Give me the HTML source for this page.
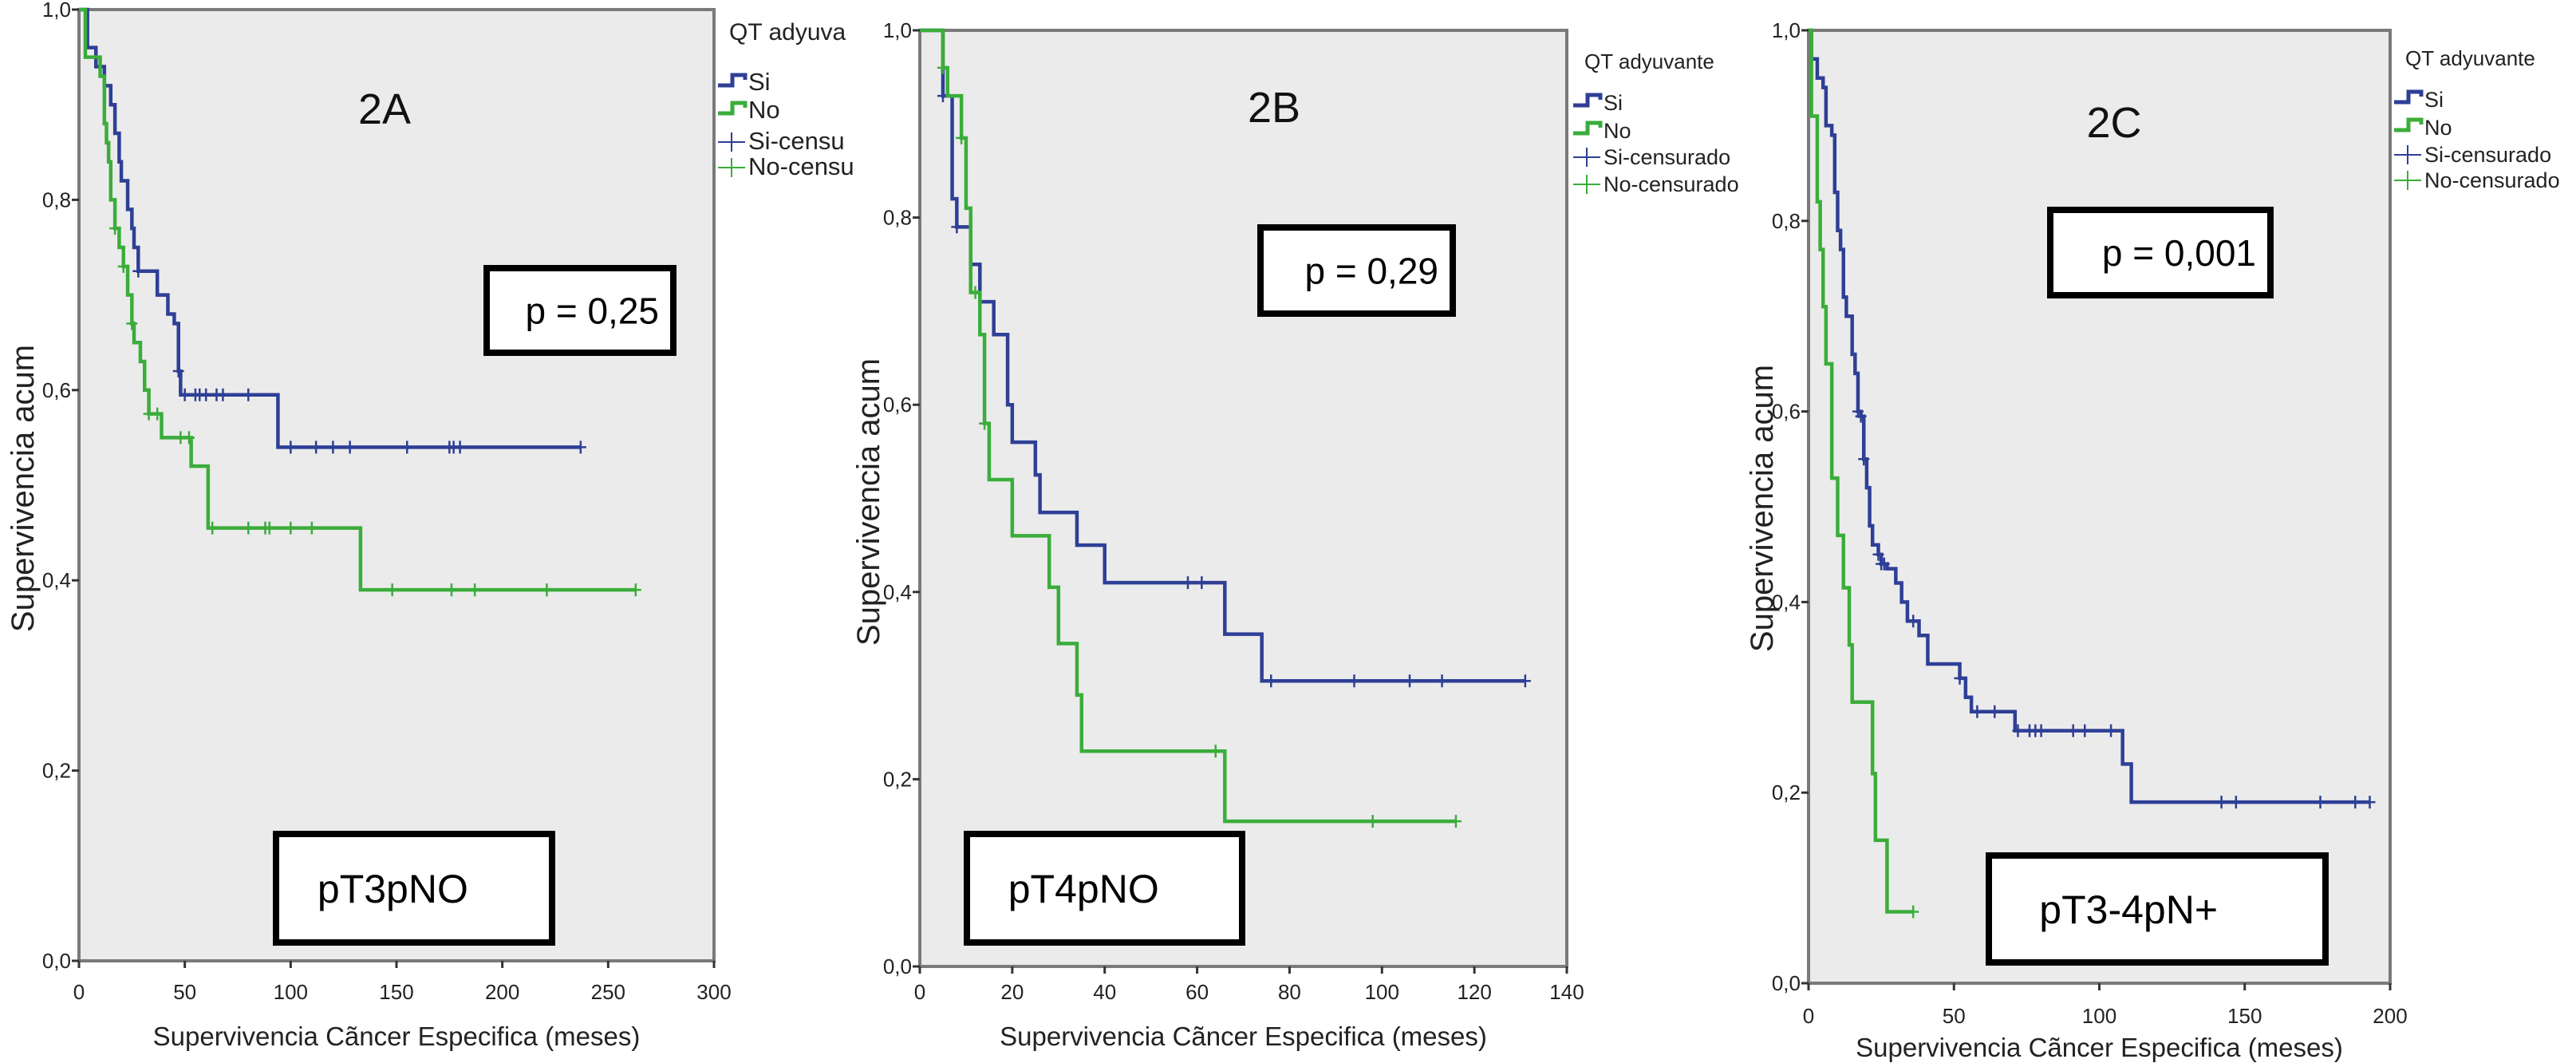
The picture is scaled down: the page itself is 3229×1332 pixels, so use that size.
<!DOCTYPE html>
<html><head><meta charset="utf-8">
<style>
html,body{margin:0;padding:0;background:#fff;}
svg{display:block;font-family:"Liberation Sans",Arial,sans-serif;}
</style></head>
<body>
<svg id="chart" width="3229" height="1332" viewBox="0 0 3229 1332" xmlns="http://www.w3.org/2000/svg"></svg>
<script>
// ---- Panel A data ----
const aXTicks = [0,50,100,150,200,250,300];
const aSiTimes = [4,8,12,15,17,19,20,23,25,26,28,37,42,45,47,48,94];
const aSiSurv  = [0.96,0.94,0.92,0.90,0.87,0.84,0.82,0.79,0.77,0.75,0.725,0.70,0.68,0.67,0.62,0.595,0.54];
const aSiEnd = 237;
const aSiCens = [28,47,50,55,57,60,65,68,80,100,112,120,128,155,175,177,180,237];
const aNoTimes = [3,10,12,13,14,15,17,19,21,23,25,26,29,31,33,39,53,61,133];
const aNoSurv  = [0.95,0.93,0.88,0.86,0.84,0.80,0.77,0.75,0.73,0.70,0.67,0.65,0.63,0.60,0.575,0.55,0.52,0.455,0.39];
const aNoEnd = 263;
const aNoCens = [17,21,25,33,37,48,52,63,80,88,90,100,110,148,176,187,221,263];
// ---- Panel B data ----
const bXTicks = [0,20,40,60,80,100,120,140];
const bSiTimes = [5,7,8,11,13,16,19,20,25,26,34,40,66,74];
const bSiSurv  = [0.93,0.82,0.79,0.75,0.71,0.675,0.60,0.56,0.525,0.485,0.45,0.41,0.355,0.305];
const bSiEnd = 131;
const bSiCens = [5,8,58,61,76,94,106,113,131];
const bNoTimes = [5,6,9,10,11,13,14,15,20,28,30,34,35,66];
const bNoSurv  = [0.96,0.93,0.885,0.81,0.72,0.675,0.58,0.52,0.46,0.405,0.345,0.29,0.23,0.155];
const bNoEnd = 116;
const bNoCens = [5,9,12,14,64,98,116];
// ---- Panel C data ----
const cXTicks = [0,50,100,150,200];
const cSiTimes = [1,3,5,6,8,9,10,11,12,13,15,16,17,18,19,20,21,22,24,25,27,30,32,34,38,41,52,54,56,71,108,111];
const cSiSurv  = [0.97,0.95,0.94,0.90,0.89,0.83,0.79,0.77,0.72,0.70,0.66,0.64,0.60,0.595,0.55,0.52,0.48,0.46,0.45,0.44,0.435,0.42,0.40,0.38,0.365,0.335,0.32,0.30,0.285,0.265,0.23,0.19];
const cSiEnd = 193;
const cSiCens = [17,18,19,24,25,26,36,52,58,64,72,76,78,80,91,95,104,142,147,176,188,193];
const cNoTimes = [1,3,4,5,6,8,10,12,14,15,22,23,27];
const cNoSurv  = [0.91,0.82,0.77,0.71,0.65,0.53,0.47,0.415,0.355,0.295,0.22,0.15,0.075];
const cNoEnd = 36;
const cNoCens = [36];
const yTicks = [0,0.2,0.4,0.6,0.8,1.0];
const yTickLabels = ["0,0","0,2","0,4","0,6","0,8","1,0"];

const NS="http://www.w3.org/2000/svg";
const svg=document.getElementById('chart');
function mk(tag,attrs,parent){const e=document.createElementNS(NS,tag);for(const k in attrs)e.setAttribute(k,attrs[k]);(parent||svg).appendChild(e);return e;}
const BLUE="#2e3f96", GREEN="#3aad3a";

function panel(p){
  const g=mk('g',{});
  
  
  const xs=t=>p.x0+(t-p.xmin)/(p.xmax-p.xmin)*(p.x1-p.x0);
  const ys=v=>p.y0-v*(p.y0-p.y1);
  const bg=mk('rect',{x:p.x0,y:p.y1,width:p.x1-p.x0,height:p.y0-p.y1,fill:"#ebebeb",stroke:"#7a7a7a","stroke-width":4},g);
  
  
  yTicks.forEach((v,i)=>{
    const y=ys(v);
    mk('line',{x1:p.x0-9,x2:p.x0,y1:y,y2:y,stroke:"#333","stroke-width":3},g);
    const t=mk('text',{x:p.x0-10,y:y+9,"text-anchor":"end","font-size":26,fill:"#222"},g);
    t.textContent=yTickLabels[i];
    
    
  });
  p.xticks.forEach(v=>{
    const x=xs(v);
    mk('line',{x1:x,x2:x,y1:p.y0,y2:p.y0+9,stroke:"#333","stroke-width":3},g);
    const t=mk('text',{x:x,y:p.xlabY,"text-anchor":"middle","font-size":26,fill:"#222"},g);
    t.textContent=String(v);
    
    
  });
  const xt=mk('text',{x:(p.x0+p.x1)/2,y:p.xTitleY,"text-anchor":"middle","font-size":33,fill:"#222"},g);
  xt.textContent="Supervivencia Cãncer Especifica (meses)";
  
  
  const yt=mk('text',{x:0,y:0,"text-anchor":"middle","font-size":40,fill:"#222",transform:`translate(${p.yTitleX},${p.yTitleY}) rotate(-90)`},g);
  yt.textContent="Supervivencia acum";
  
  
  p.series.forEach(s=>{
    let d=`M${xs(0)},${ys(1)}`;
    s.times.forEach((t,i)=>{d+=` H${xs(t)} V${ys(s.surv[i])}`;});
    d+=` H${xs(s.end)}`;
    const path=mk('path',{d:d,fill:"none",stroke:s.color,"stroke-width":4.5},g);
    
    
    s.cens.forEach(t=>{
      let v=1;s.times.forEach((tt,i)=>{if(tt<=t)v=s.surv[i];});
      const c=mk('path',{d:`M${xs(t)},${ys(v)-8} V${ys(v)+8} M${xs(t)-7},${ys(v)} H${xs(t)+7}`,stroke:s.color,"stroke-width":2.5},g);
      
      
    });
  });
  const lg=mk('g',{},g);
  
  
  const fs=p.lfs;
  const lt=mk('text',{x:p.lx+14,y:p.ly[0],"font-size":fs-1,fill:"#222"},lg);lt.textContent=p.ltitle;
  const names=p.lnames;
  [BLUE,GREEN].forEach((c,i)=>{
    const y=p.ly[i+1];
    mk('path',{d:`M${p.lx},${y+3} H${p.lx+18} V${y-10} H${p.lx+34} V${y-4}`,fill:"none",stroke:c,"stroke-width":5},lg);
    const t=mk('text',{x:p.lx+38,y:y+9,"font-size":fs,fill:"#222"},lg);t.textContent=names[i];
    
    
  });
  [BLUE,GREEN].forEach((c,i)=>{
    const y=p.ly[i+3];
    mk('path',{d:`M${p.lx},${y} H${p.lx+34} M${p.lx+17},${y-12} V${y+12}`,stroke:c,"stroke-width":2},lg);
    const t=mk('text',{x:p.lx+38,y:y+9,"font-size":fs,fill:"#222"},lg);t.textContent=names[i+2];
    
    
  });
  const lab=mk('text',{x:p.labX,y:p.labY,"text-anchor":"middle","font-size":54,fill:"#111"},g);
  lab.textContent=p.label;
  
  
  [[p.pbox,p.ptext,46],[p.sbox,p.stext,50]].forEach(([b,tx,fz],k)=>{
    const r=mk('rect',{x:b[0],y:b[1],width:b[2]-b[0],height:b[3]-b[1],fill:"#fff",stroke:"#000","stroke-width":8},g);
    
    
    const t=mk('text',{x:k?b[0]+(b[2]-b[0])*0.15:b[2]-18,y:(b[1]+b[3])/2+fz*0.36,"text-anchor":k?"start":"end","font-size":fz,fill:"#000"},g);
    t.textContent=tx;
    
    
  });
}
const shortNames=["Si","No","Si-censu","No-censu"], longNames=["Si","No","Si-censurado","No-censurado"];
panel({id:'2a',x0:99,x1:895,y0:1204,y1:12,xmin:0,xmax:300,xticks:aXTicks,xlabY:1252,xTitleY:1310,yTitleX:42,yTitleY:612,
 series:[{name:'si',color:BLUE,times:aSiTimes,surv:aSiSurv,end:aSiEnd,cens:aSiCens},{name:'no',color:GREEN,times:aNoTimes,surv:aNoSurv,end:aNoEnd,cens:aNoCens}],
 lx:900,ly:[50,104,139,178,210],lfs:31,ltitle:"QT adyuva",lnames:shortNames,label:"2A",labX:482,labY:155,
 pbox:[610,336,844,442],ptext:"p = 0,25",sbox:[346,1045,692,1181],stext:"pT3pNO"});
panel({id:'2b',x0:1153,x1:1964,y0:1211,y1:38,xmin:0,xmax:140,xticks:bXTicks,xlabY:1252,xTitleY:1310,yTitleX:1102,yTitleY:629,
 series:[{name:'si',color:BLUE,times:bSiTimes,surv:bSiSurv,end:bSiEnd,cens:bSiCens},{name:'no',color:GREEN,times:bNoTimes,surv:bNoSurv,end:bNoEnd,cens:bNoCens}],
 lx:1972,ly:[86,129,164,197,231],lfs:27,ltitle:"QT adyuvante",lnames:longNames,label:"2B",labX:1597,labY:153,
 pbox:[1580,285,1821,393],ptext:"p = 0,29",sbox:[1212,1045,1557,1181],stext:"pT4pNO"});
panel({id:'2c',x0:2267,x1:2996,y0:1232,y1:38,xmin:0,xmax:200,xticks:cXTicks,xlabY:1282,xTitleY:1324,yTitleX:2222,yTitleY:637,
 series:[{name:'si',color:BLUE,times:cSiTimes,surv:cSiSurv,end:cSiEnd,cens:cSiCens},{name:'no',color:GREEN,times:cNoTimes,surv:cNoSurv,end:cNoEnd,cens:cNoCens}],
 lx:3001,ly:[82,125,160,194,226],lfs:27,ltitle:"QT adyuvante",lnames:longNames,label:"2C",labX:2650,labY:172,
 pbox:[2570,263,2846,370],ptext:"p = 0,001",sbox:[2493,1072,2915,1206],stext:"pT3-4pN+"});
</script>
</body></html>
